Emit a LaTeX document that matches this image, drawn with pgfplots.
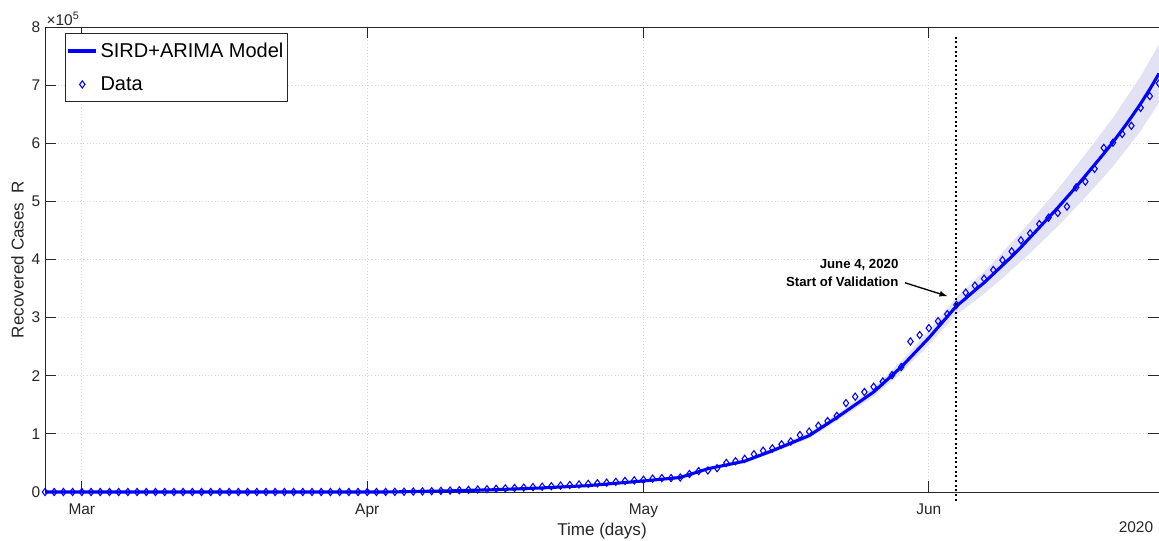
\documentclass[border=0pt]{standalone}
\usepackage{fontspec}
\setmainfont{Liberation Sans}
\usepackage{pgfplots}
\pgfplotsset{compat=1.18}
\usepgfplotslibrary{fillbetween}
\usepackage{pgfplotstable}

\definecolor{axgray}{RGB}{38,38,38}
\definecolor{gridgray}{RGB}{215,215,215}
\definecolor{bandcol}{RGB}{226,226,244}

\pgfplotsset{
  leglinestyle/.style={legend image code/.code={\draw[##1] (0cm,0cm) -- (0.74cm,0cm);}},
  legmarkstyle/.style={legend image code/.code={\draw[##1] plot coordinates {(0.37cm,0cm)};}},
}

% day 0 = March 1, 2020 ; values in units of 1e5
\pgfplotstableread{
d r
-4 0
-3 0
-2 0
-1 0
0 0
1 0
2 0
3 0
4 0
5 0
6 0
7 0
8 0
9 0
10 0
11 0
12 0
13 0
14 0
15 0
16 0
17 0
18 0
19 0
20 0
21 0
22 0
23 0
24 0
25 0
26 0
27 0
28 0
29 0
30 0
31 0
32 0
33 0.001
34 0.003
35 0.005
36 0.007
37 0.010
38 0.014
39 0.019
40 0.024
41 0.030
42 0.036
43 0.042
44 0.048
45 0.055
46 0.062
47 0.069
48 0.076
49 0.084
50 0.092
51 0.10
52 0.11
53 0.12
54 0.13
55 0.14
56 0.15
57 0.16
58 0.175
59 0.19
60 0.20
61 0.21
62 0.23
63 0.24
64 0.24
65 0.25
66 0.31
67 0.36
68 0.37
69 0.41
70 0.50
71 0.53
72 0.57
73 0.65
74 0.71
75 0.75
76 0.82
77 0.87
78 0.98
79 1.04
80 1.14
81 1.22
82 1.31
83 1.53
84 1.64
85 1.72
86 1.81
87 1.90
88 2.01
89 2.15
90 2.59
91 2.70
92 2.82
93 2.94
94 3.06
95 3.22
96 3.43
97 3.55
98 3.67
99 3.82
100 3.99
101 4.14
102 4.33
103 4.45
104 4.61
105 4.72
106 4.80
107 4.91
108 5.24
109 5.34
110 5.56
111 5.92
112 6.01
113 6.16
114 6.30
115 6.61
116 6.81
117 7.03
}\datatab

\pgfplotstableread{
d m
-4 0
33 0
35 0.005
40 0.02
45 0.04
50 0.07
55 0.11
61 0.19
65 0.25
68 0.40
72 0.53
75 0.71
79 0.97
82 1.28
86 1.72
89 2.15
92 2.65
95 3.20
96 3.33
97 3.47
98 3.60
99 3.75
100 3.90
101 4.05
102 4.21
103 4.38
104 4.55
105 4.72
106 4.89
107 5.07
108 5.25
109 5.44
110 5.63
111 5.82
112 6.02
113 6.23
114 6.45
115 6.68
116 6.93
117 7.20
}\modeltab

\pgfplotstableread{
d lo hi
60 0.18 0.20
65 0.24 0.26
68 0.38 0.42
72 0.50 0.56
75 0.67 0.75
79 0.92 1.02
82 1.22 1.34
86 1.64 1.80
89 2.05 2.25
92 2.53 2.77
95 3.05 3.35
98 3.41 3.79
100 3.68 4.12
103 4.11 4.65
106 4.57 5.21
109 5.07 5.81
112 5.60 6.44
115 6.21 7.15
117 6.70 7.70
}\bandtab

\begin{document}
\begin{tikzpicture}
\begin{axis}[
  at={(0,0)}, anchor=south west,
  scale only axis,
  width=835.5pt, height=348.75pt,
  xmin=-4, xmax=117,
  ymin=0, ymax=8,
  xtick={0,31,61,92},
  xticklabels={Mar,Apr,May,Jun},
  ytick={0,1,...,8},
  grid=major,
  major grid style={gridgray, dotted, line width=0.6pt},
  axis line style={axgray, line width=0.6pt},
  major tick style={axgray, line width=0.6pt},
  major tick length=8.5pt,
  tick label style={font=\fontsize{11.6}{13}\selectfont, text=axgray},
  xticklabel style={yshift=-5pt},
  /pgf/number format/assume math mode=true,
  xlabel={Time (days)},
  ylabel={Recovered Cases\ \ R},
  label style={font=\fontsize{12.8}{14}\selectfont, text=axgray},
  xlabel style={yshift=2.5pt},
  ylabel style={yshift=-1pt},
  clip=false,
  legend cell align=left,
  legend style={at={(0,1)}, anchor=north west, xshift=15pt, yshift=-4.5pt,
    font=\fontsize{15}{18}\selectfont, draw=axgray, line width=0.6pt,
    row sep=9pt, inner xsep=1pt, inner ysep=5pt},
]
\addplot[name path=hi, draw=none, forget plot] table[x=d, y=hi] {\bandtab};
\addplot[name path=lo, draw=none, forget plot] table[x=d, y=lo] {\bandtab};
\addplot[bandcol, draw=none, forget plot] fill between[of=hi and lo];

\addplot[blue, line width=2.3pt, line join=round, leglinestyle] table[x=d, y=m] {\modeltab};
\addlegendentry{SIRD+ARIMA Model}
\addplot[blue, only marks, mark=diamond, mark size=2.7pt,
  mark options={line width=0.8pt}, legmarkstyle]
  table[x=d, y=r] {\datatab};
\addlegendentry{Data}

\addplot[black, dotted, line width=1.5pt, forget plot] coordinates {(94.9,-0.15) (94.9,7.83)};

\draw[-latex, black, line width=1pt] (axis cs:89.4,3.6) -- (axis cs:94.0,3.37);
\node[anchor=east, align=right, font=\fontsize{9.9}{13.5}\selectfont\bfseries]
  at (axis cs:89.2,3.77) {June 4, 2020\\Start of Validation};

\node[anchor=south west, text=axgray, font=\fontsize{11.6}{13}\selectfont, inner sep=1pt]
  at (rel axis cs:0,1) {×10\textsuperscript{5}};
\node[text=axgray, font=\fontsize{11.6}{13}\selectfont]
  at (axis cs:114.5,-0.6) {2020};
\end{axis}
\pgfresetboundingbox
\path[use as bounding box] (-33.75pt,-36.75pt) rectangle (835.5pt,369pt);
\end{tikzpicture}
\end{document}
